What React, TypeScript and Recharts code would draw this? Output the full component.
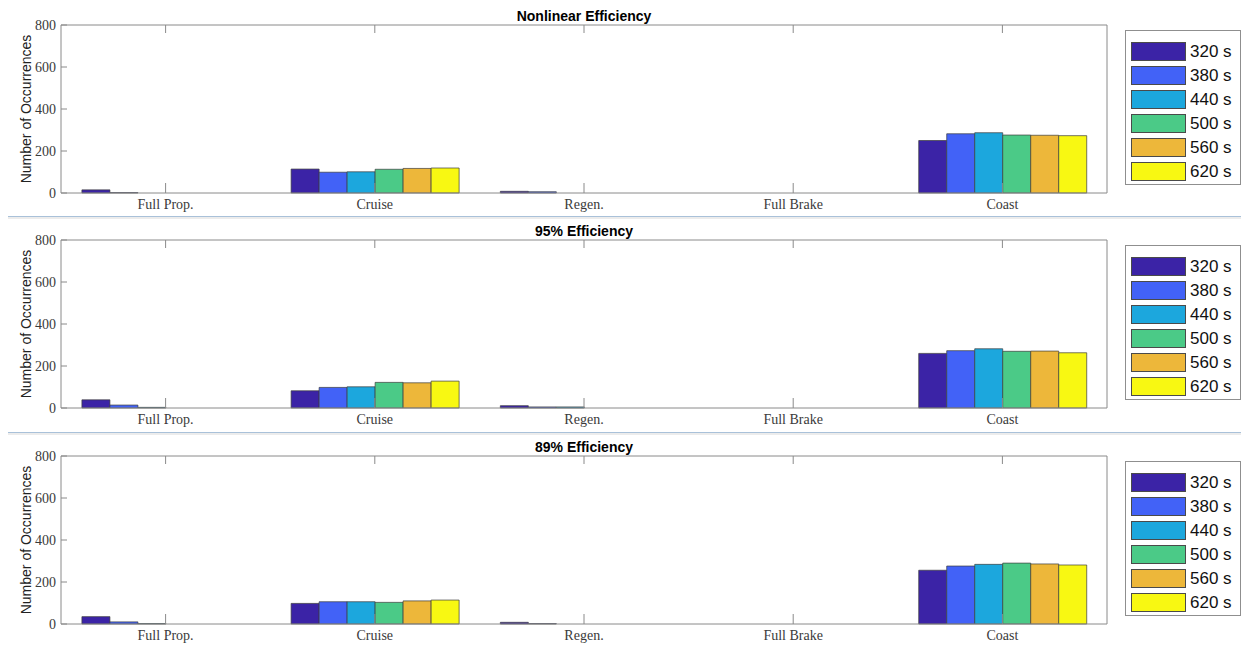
import React from 'react';
import { BarChart, Bar, XAxis, YAxis, Legend } from 'recharts';

// Operating modes along the x axis
const categories = ['Full Prop.', 'Cruise', 'Regen.', 'Full Brake', 'Coast'];

// Mission durations (one bar series each)
const seriesKeys = ['s320', 's380', 's440', 's500', 's560', 's620'];
const seriesNames = ['320 s', '380 s', '440 s', '500 s', '560 s', '620 s'];
const seriesColors = ['#3b23a6', '#4262f7', '#1ca7dd', '#4bca87', '#edb73a', '#f8f812'];

const yTicks = [0, 200, 400, 600, 800];

// Nonlinear efficiency counts per mode
const nonlinear320 = [15, 114, 8, 0, 250];
const nonlinear380 = [2, 99, 6, 0, 282];
const nonlinear440 = [0, 101, 0, 0, 287];
const nonlinear500 = [0, 113, 0, 0, 276];
const nonlinear560 = [0, 117, 0, 0, 275];
const nonlinear620 = [0, 119, 0, 0, 273];

// 95% efficiency counts per mode
const eff95_320 = [39, 82, 11, 0, 260];
const eff95_380 = [14, 98, 5, 0, 273];
const eff95_440 = [3, 101, 5, 0, 282];
const eff95_500 = [0, 122, 0, 0, 270];
const eff95_560 = [0, 120, 0, 0, 271];
const eff95_620 = [0, 128, 0, 0, 263];

// 89% efficiency counts per mode
const eff89_320 = [35, 98, 8, 0, 256];
const eff89_380 = [10, 106, 2, 0, 276];
const eff89_440 = [2, 106, 0, 0, 284];
const eff89_500 = [0, 103, 0, 0, 290];
const eff89_560 = [0, 110, 0, 0, 286];
const eff89_620 = [0, 114, 0, 0, 281];

const panels = [
  { title: 'Nonlinear Efficiency', series: [nonlinear320, nonlinear380, nonlinear440, nonlinear500, nonlinear560, nonlinear620] },
  { title: '95% Efficiency', series: [eff95_320, eff95_380, eff95_440, eff95_500, eff95_560, eff95_620] },
  { title: '89% Efficiency', series: [eff89_320, eff89_380, eff89_440, eff89_500, eff89_560, eff89_620] },
];

const buildRows = (series: number[][]) =>
  categories.map((cat, i) => {
    const row: Record<string, string | number> = { cat };
    seriesKeys.forEach((k, j) => {
      row[k] = series[j][i];
    });
    return row;
  });

const CHART_W = 1246;
const CHART_H = 216;
const panelTops = [0, 215, 431];
const separatorTops = [216, 432];

const AXIS_COLOR = '#8a8a8a';
const TICK_COLOR = '#3a3a3a';
const SERIF = '"Liberation Serif", "Times New Roman", serif';
const SANS = '"Liberation Sans", Arial, Helvetica, sans-serif';

// Box-side axes carry tick marks only, no labels
const NoLabel = () => <g />;

const LegendBox = (props: any) => {
  const payload = props.payload || [];
  return (
    <div
      style={{
        boxSizing: 'border-box',
        width: 116,
        height: 155,
        border: '1px solid #8f8f8f',
        background: '#fff',
        paddingTop: 10,
        paddingLeft: 5,
      }}
    >
      {payload.map((entry: any) => (
        <div key={entry.value} style={{ display: 'flex', alignItems: 'center', height: 24.1 }}>
          <div
            style={{
              boxSizing: 'border-box',
              width: 55,
              height: 19,
              background: entry.color,
              border: '1px solid #4a4a4a',
              marginTop: -4,
            }}
          />
          <span
            style={{
              marginLeft: 4,
              marginTop: -4,
              fontFamily: SANS,
              fontSize: 17,
              color: '#111',
              lineHeight: '19px',
            }}
          >
            {entry.value}
          </span>
        </div>
      ))}
    </div>
  );
};

const Panel = ({ title, series }: { title: string; series: number[][] }) => {
  const data = buildRows(series);
  return (
    <BarChart
      width={CHART_W}
      height={CHART_H}
      data={data}
      margin={{ top: 24, right: 138, bottom: 0, left: 0 }}
      barCategoryGap="10%"
      barGap={0}
    >
      <XAxis
        dataKey="cat"
        height={23}
        stroke={AXIS_COLOR}
        tickSize={-10}
        tickMargin={16}
        tick={{ fill: TICK_COLOR, fontSize: 14, fontFamily: SERIF }}
        interval={0}
      />
      <XAxis
        xAxisId="top"
        dataKey="cat"
        orientation="top"
        height={1}
        stroke={AXIS_COLOR}
        tickSize={-8}
        tick={NoLabel}
        interval={0}
        label={{
          value: title,
          position: 'top',
          offset: 3,
          fill: '#000',
          fontSize: 14,
          fontWeight: 'bold',
          fontFamily: SANS,
        }}
      />
      <YAxis
        width={61}
        domain={[0, 800]}
        ticks={yTicks}
        stroke={AXIS_COLOR}
        tickSize={-6}
        tickMargin={11}
        tick={{ fill: TICK_COLOR, fontSize: 14, fontFamily: SERIF }}
        label={{
          value: 'Number of Occurrences',
          angle: -90,
          position: 'center',
          dx: -4,
          fill: '#222',
          fontSize: 14,
          fontFamily: SANS,
        }}
      />
      <YAxis
        yAxisId="right"
        orientation="right"
        width={1}
        domain={[0, 800]}
        ticks={yTicks}
        stroke={AXIS_COLOR}
        tickSize={-10}
        tick={NoLabel}
      />
      <Legend
        layout="vertical"
        align="center"
        verticalAlign="middle"
        content={<LegendBox />}
        wrapperStyle={{ left: 1125, top: 30, width: 116, height: 155 }}
      />
      {seriesKeys.map((k, j) => (
        <Bar
          key={k}
          dataKey={k}
          name={seriesNames[j]}
          fill={seriesColors[j]}
          stroke="#3c3c3c"
          strokeWidth={0.7}
          isAnimationActive={false}
        />
      ))}
    </BarChart>
  );
};

export default function App() {
  return (
    <div style={{ position: 'absolute', left: 0, top: 0, width: 1246, height: 646, background: '#fff', overflow: 'hidden' }}>
      {panels.map((p, i) => (
        <div key={p.title} style={{ position: 'absolute', left: 0, top: panelTops[i] }}>
          <Panel title={p.title} series={p.series} />
        </div>
      ))}
      {separatorTops.map((t) => (
        <div key={t} style={{ position: 'absolute', left: 8, top: t, width: 1233 }}>
          <div style={{ height: 1, background: '#a9c1d9' }} />
          <div style={{ height: 2, background: '#ececec' }} />
        </div>
      ))}
    </div>
  );
}
